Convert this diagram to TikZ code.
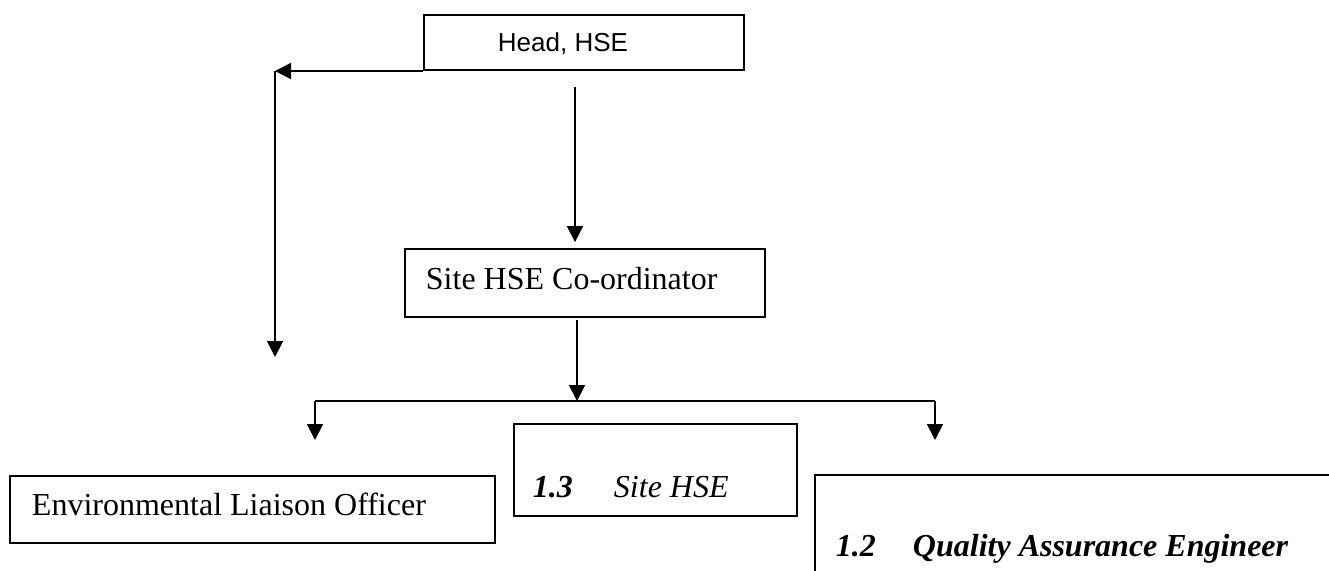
\documentclass[tikz,border=0pt]{standalone}
\usepackage{fontspec}
\setmainfont{Liberation Serif}
\newfontfamily\arialfont{Liberation Sans}
\usetikzlibrary{arrows.meta}
\begin{document}
\begin{tikzpicture}[x=1pt,y=-1pt,line width=1.9pt,
  box/.style={draw,rectangle,inner sep=0pt},
  txt/.style={inner sep=0pt,anchor=base west,font=\fontsize{32}{38}\selectfont},
  sanstxt/.style={inner sep=0pt,anchor=base west,font=\arialfont\fontsize{26}{31}\selectfont},
  arr/.style={-{Triangle[length=16pt,width=16pt]}}]
  \useasboundingbox (0,0) rectangle (1329,570);
  \clip (0,0) rectangle (1329,570);

  % boxes
  \node[box,minimum width=320pt,minimum height=55pt] (head) at (584,42.5) {};
  \node[box,minimum width=360pt,minimum height=68pt] (coord) at (585,283) {};
  \node[box,minimum width=283pt,minimum height=92pt] (site) at (655.5,470) {};
  \node[box,minimum width=485pt,minimum height=67pt] (env) at (252.5,509.5) {};
  \node[box,minimum width=540pt,minimum height=120pt] (qa) at (1085,535) {};

  % labels
  \node[sanstxt] (headtxt) at (497,51) {Head, HSE};
  \node[txt] (coordtxt) at (425,289) {Site HSE Co-ordinator};
  \node[txt] (envtxt) at (31,515) {Environmental Liaison Officer};
  \node[txt,font=\fontsize{32}{38}\selectfont\bfseries\itshape] (sitenum) at (532,497) {1.3};
  \node[txt,font=\fontsize{32}{38}\selectfont\itshape] (sitetxt) at (613,497) {Site HSE};
  \node[txt,font=\fontsize{32}{38}\selectfont\bfseries\itshape] (qanum) at (835,556) {1.2};
  \node[txt,font=\fontsize{32}{38}\selectfont\bfseries\itshape] (qatxt) at (912,556) {Quality Assurance Engineer};

  % connector points
  \coordinate (lcorner) at (275,71);
  \coordinate (lend) at (275,357);
  \coordinate (hdown) at (575,87);
  \coordinate (cdown) at (577,320);
  \coordinate (bleft) at (315,401);
  \coordinate (bright) at (935,401);
  \coordinate (bleftend) at (315,440);
  \coordinate (brightend) at (935,440);

  % connectors
  \draw[arr] (head.south west |- lcorner) -- (lcorner);
  \draw[arr] (lcorner) -- (lend);
  \draw[arr,shorten >=6pt] (hdown) -- (hdown |- coord.north);
  \draw[arr] (cdown) -- (cdown |- bleft);
  \draw (bleft) -- (bright);
  \draw[arr] (bleft) -- (bleftend);
  \draw[arr] (bright) -- (brightend);
\end{tikzpicture}
\end{document}
